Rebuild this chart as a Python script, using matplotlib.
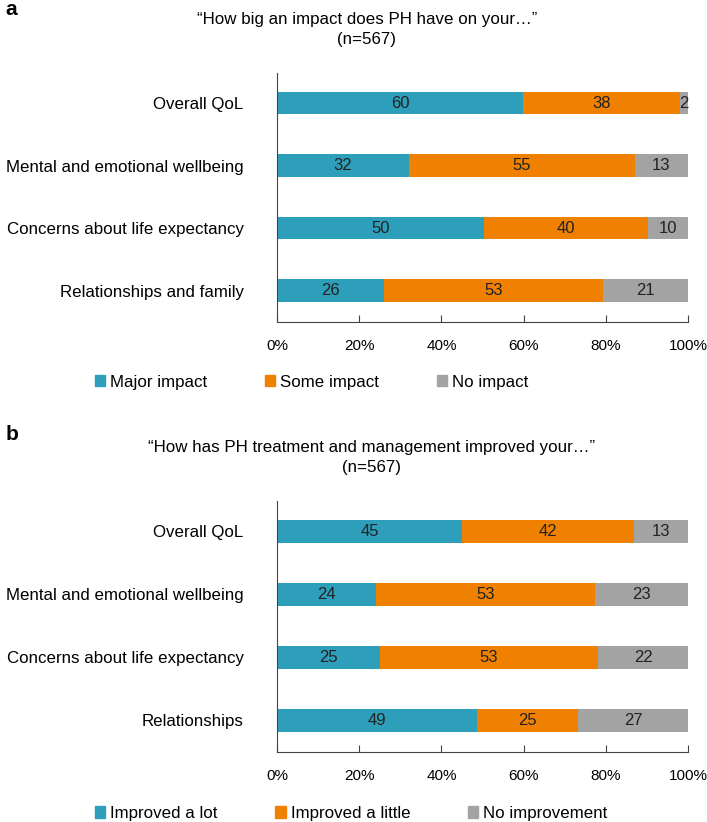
import numpy as np
import matplotlib.pyplot as plt
from matplotlib.patches import Patch

plt.rcParams['font.family'] = ['Liberation Sans', 'DejaVu Sans']

# panel a
cats_a = ["Overall QoL", "Mental and emotional wellbeing",
          "Concerns about life expectancy", "Relationships and family"]
major = [59.8, 32.0, 50.3, 26.0]
some = [38.3, 55.0, 40.0, 53.4]
none_a = [1.9, 13.0, 9.7, 20.6]
leg_a = ["Major impact", "Some impact", "No impact"]
title_a = "\u201cHow big an impact does PH have on your\u2026\u201d\n(n=567)"

# panel b
cats_b = ["Overall QoL", "Mental and emotional wellbeing",
          "Concerns about life expectancy", "Relationships"]
lot = [45.0, 24.1, 25.0, 48.6]
little = [41.8, 53.3, 53.2, 24.7]
noimp = [13.2, 22.6, 21.8, 26.7]
leg_b = ["Improved a lot", "Improved a little", "No improvement"]
title_b = "\u201cHow has PH treatment and management improved your\u2026\u201d\n(n=567)"

ticks = [0, 20, 40, 60, 80, 100]
colors = ["#2E9FBA", "#F08000", "#A3A3A3"]
H = 822.0

def panel(fig, top, bottom, cats, series, labels, title, title_x, title_y, tag, tag_y, leg_y):
    ax = fig.add_axes([277 / 707, 1 - bottom / H, 411 / 707, (bottom - top) / H])
    y = np.arange(len(cats))
    left = np.zeros(len(cats))
    for vals, c in zip(series, colors):
        vals = np.array(vals)
        bars = ax.barh(y, vals, left=left, height=0.36, color=c)
        for b, v in zip(bars, vals):
            ax.text(b.get_x() + b.get_width() / 2, b.get_y() + b.get_height() / 2,
                    f"{int(round(v))}", ha="center", va="center", fontsize=12, color="#222222")
        left += vals
    ax.set_xlim(0, 100)
    ax.set_ylim(3.5, -0.48)
    ax.set_yticks(y)
    ax.set_yticklabels(cats, fontsize=12.2)
    ax.set_xticks(ticks)
    ax.set_xticklabels([f"{t}%" for t in ticks], fontsize=11)
    ax.tick_params(axis="y", length=0, pad=24)
    ax.tick_params(axis="x", direction="in", length=5, pad=12, color="#444444")
    for s in ["top", "right"]:
        ax.spines[s].set_visible(False)
    ax.spines["left"].set_color("#444444")
    ax.spines["bottom"].set_color("#444444")
    fig.text(title_x, title_y, title, ha="center", va="top", fontsize=12.2, linespacing=1.45)
    fig.text(0.008, tag_y, tag, ha="left", va="top", fontsize=15, fontweight="bold")
    handles = [Patch(color=c) for c in colors]
    fig.legend(handles, labels, loc="center left", bbox_to_anchor=(0.125, leg_y), ncol=3,
               frameon=False, fontsize=12.2, handlelength=0.6, handleheight=0.7,
               handletextpad=0.3, columnspacing=3.4, borderaxespad=0)
    return ax

fig = plt.figure(figsize=(7.07, 8.22), dpi=100)
panel(fig, 73, 322, cats_a, [major, some, none_a], leg_a,
      title_a, 0.519, 1 - 12 / H, "a", 1 - 0 / H, 1 - 382 / H)
panel(fig, 501, 752, cats_b, [lot, little, noimp], leg_b,
      title_b, 0.525, 1 - 440 / H, "b", 1 - 425 / H, 1 - 813 / H)

fig.savefig("out.png", dpi=100)
